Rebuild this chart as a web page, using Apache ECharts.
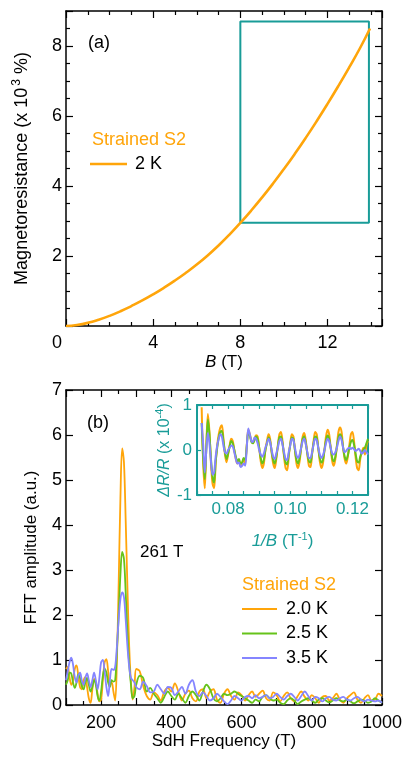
<!DOCTYPE html>
<html><head><meta charset="utf-8">
<script src="https://cdn.jsdelivr.net/npm/echarts@6/dist/echarts.min.js"></script>
<style>html,body{margin:0;padding:0;background:#fff}#c{width:409px;height:760px}</style>
</head><body><div id="c"></div>
<script>
// ---- Panel (a): magnetoresistance vs B ----
const mrB   = [0,0.5,1,1.5,2,2.5,3,3.5,4,4.5,5,5.5,6,6.5,7,7.5,8,8.5,9,9.5,10,10.5,11,11.5,12,12.5,13,13.5,13.95];
const mrVal = [0,0.03,0.09,0.18,0.29,0.42,0.57,0.73,0.905,1.095,1.30,1.52,1.755,2.015,2.30,2.61,2.945,3.30,3.675,4.07,4.485,4.92,5.375,5.85,6.345,6.86,7.395,7.95,8.50];
const boxB  = [8, 13.9, 13.9, 8, 8];
const boxMR = [2.95, 2.95, 8.7, 8.7, 2.95];
const xTicksA = [0, 4, 8, 12];
const yTicksA = [2, 4, 6, 8];

// ---- Panel (b): FFT amplitude ----
const fftFreq = [];
for (let f = 100; f <= 300; f += 5) fftFreq.push(f);
for (let f = 310; f <= 1000; f += 10) fftFreq.push(f);
const fft20 = [0.80,0.85,0.62,0.45,0.55,0.80,0.88,0.65,0.40,0.35, 0.55,0.62,0.40,0.15,0.05,0.35,0.58,0.50,0.25,0.08, 0.12,0.55,0.95,1.02,0.75,0.45,0.50,0.30,0.10,1.00, 2.70,4.60,5.70,5.40,4.10,2.60,1.30,0.50,0.12,0.40, 0.80,
  0.75,0.42,0.20,0.12,0.28,0.22,0.10,0.30,0.38,0.30, 0.48,0.30,0.10,0.25,0.32,0.15,0.08,0.30,0.35,0.15, 0.30,0.35,0.12,0.05,0.25,0.35,0.20,0.12,0.28,0.22, 0.10,0.22,0.30,0.18,0.25,0.32,0.15,0.10,0.28,0.22, 0.08,0.20,0.28,0.15,0.08,0.20,0.30,0.18,0.10,0.22, 0.15,0.05,0.18,0.20,0.10,0.15,0.25,0.12,0.05,0.15, 0.22,0.28,0.12,0.05,0.15,0.22,0.10,0.12,0.25,0.20];
const fft25 = [0.45,0.55,0.72,0.70,0.50,0.38,0.50,0.68,0.60,0.42, 0.35,0.50,0.60,0.45,0.30,0.40,0.55,0.45,0.20,0.10, 0.30,0.65,0.80,0.72,0.50,0.40,0.55,0.52,0.55,1.20, 2.00,2.90,3.40,3.25,2.50,1.60,0.90,0.45,0.15,0.20, 0.45,
  0.65,0.60,0.30,0.38,0.25,0.15,0.05,0.18,0.30,0.20, 0.12,0.25,0.15,0.05,0.20,0.30,0.22,0.10,0.30,0.45, 0.35,0.15,0.08,0.15,0.25,0.22,0.25,0.30,0.25,0.20, 0.15,0.10,0.05,0.12,0.08,0.18,0.22,0.15,0.10,0.12, 0.05,0.02,0.10,0.15,0.10,0.02,0.08,0.12,0.15,0.10, 0.05,0.12,0.15,0.10,0.06,0.10,0.15,0.10,0.08,0.12, 0.08,0.04,0.08,0.12,0.10,0.05,0.08,0.15,0.10,0.05];
const fft35 = [0.55,0.75,0.95,1.05,0.90,0.62,0.50,0.65,0.72,0.55, 0.45,0.60,0.70,0.55,0.40,0.55,0.72,0.55,0.35,0.60, 0.95,1.00,0.75,0.40,0.20,0.55,0.80,0.78,0.85,1.30, 1.90,2.35,2.50,2.40,1.90,1.30,0.85,0.60,0.55,0.50, 0.40,
  0.35,0.52,0.42,0.28,0.30,0.45,0.35,0.25,0.40,0.38, 0.22,0.30,0.40,0.25,0.45,0.55,0.30,0.20,0.28,0.20, 0.10,0.15,0.25,0.18,0.08,0.02,0.10,0.20,0.15,0.10, 0.18,0.20,0.15,0.22,0.15,0.18,0.22,0.15,0.18,0.25, 0.18,0.12,0.20,0.25,0.18,0.10,0.20,0.30,0.20,0.10, 0.18,0.15,0.08,0.15,0.18,0.12,0.10,0.15,0.18,0.12, 0.10,0.15,0.18,0.12,0.08,0.12,0.10,0.08,0.10,0.05];
const xTicksB = [200, 400, 600, 800, 1000];

// ---- Inset: dR/R vs 1/B ----
const invBStart = 0.0715, invBStep = 0.0005;
const osc20 = [0.95,-0.30,-0.85,0.10,0.80,0.40,-0.30,-0.75,-0.85,-0.30, 0.10,0.35,0.50,0.55,0.25,-0.10,-0.27,-0.10,0.10,0.25, 0.20,0.00,-0.20,-0.30,-0.25,-0.35,-0.30,-0.20,-0.30,0.10, 0.45,0.35,0.20,0.15,0.25,0.33,0.30,0.05,-0.25,-0.40, -0.30,0.00,0.20,0.35,0.25,-0.05,-0.30,-0.40,-0.20,0.10, 0.35,0.40,0.20,-0.15,-0.40,-0.45,-0.15,0.15,0.35,0.30, 0.00,-0.30,-0.40,-0.25,0.05,0.30,0.38,0.20,-0.10,-0.35, -0.38,-0.10,0.20,0.40,0.35,0.05,-0.25,-0.40,-0.30,0.00, 0.30,0.45,0.35,0.05,-0.25,-0.35,-0.20,0.10,0.40,0.50, 0.40,0.05,-0.20,-0.30,-0.15,0.10,0.35,0.40,0.20,-0.15, -0.40,-0.45,-0.20,-0.05,0.05,-0.10,0.10,0.20];
const osc25 = [0.60,-0.20,-0.65,0.05,0.68,0.35,-0.20,-0.60,-0.72,-0.25, 0.05,0.28,0.40,0.42,0.20,-0.05,-0.20,-0.08,0.08,0.20, 0.15,0.00,-0.15,-0.25,-0.20,-0.30,-0.28,-0.18,-0.22,0.08, 0.40,0.32,0.18,0.15,0.22,0.30,0.25,0.05,-0.18,-0.30, -0.22,0.00,0.15,0.28,0.20,-0.03,-0.22,-0.30,-0.15,0.08, 0.28,0.30,0.15,-0.10,-0.28,-0.32,-0.10,0.12,0.28,0.25, 0.00,-0.22,-0.30,-0.18,0.05,0.25,0.30,0.15,-0.08,-0.25, -0.28,-0.08,0.15,0.30,0.28,0.05,-0.18,-0.28,-0.22,0.00, 0.22,0.32,0.25,0.05,-0.18,-0.25,-0.15,0.08,0.28,0.35, 0.28,0.05,-0.15,-0.22,-0.12,0.05,0.18,0.22,0.12,-0.08, -0.25,-0.28,-0.15,-0.05,0.00,0.05,0.15,0.25];
const osc35 = [0.60,0.10,-0.50,0.00,0.38,0.15,-0.25,-0.55,-0.50,-0.15, 0.10,0.25,0.35,0.30,0.10,-0.05,-0.08,0.00,0.05,0.10, 0.08,-0.05,-0.20,-0.30,-0.28,-0.38,-0.35,-0.30,-0.35,0.05, 0.48,0.35,0.20,0.18,0.28,0.25,0.15,0.00,-0.10,-0.15, -0.08,0.05,0.15,0.25,0.18,0.00,-0.15,-0.20,-0.08,0.05, 0.20,0.25,0.12,-0.05,-0.20,-0.22,-0.05,0.10,0.25,0.22, 0.05,-0.12,-0.18,-0.10,0.05,0.20,0.25,0.12,-0.05,-0.18, -0.18,-0.05,0.12,0.25,0.22,0.05,-0.10,-0.18,-0.12,0.00, 0.15,0.25,0.20,0.05,-0.08,-0.10,-0.05,0.05,0.20,0.30, 0.22,0.05,-0.05,-0.02,0.03,0.05,0.02,0.05,0.02,-0.02, 0.00,0.03,-0.02,-0.08,-0.05,0.00,-0.05,-0.10];
const insetXLabels = [0.08, 0.10, 0.12];

const C_OR = '#FFA50A', C_GR = '#66C31A', C_PU = '#8585FF', C_TE = '#199C98';
const FONT = 'Liberation Sans, Arial, sans-serif';

const zip = (xs, ys) => ys.map((y, i) => [xs[i], y]);
const invB = osc20.map((_, i) => +(invBStart + i * invBStep).toFixed(5));

function frameAxis(grid, pos, color, lw, min, max, interval, split, tickLen, minorLen) {
  return {
    type: 'value', gridIndex: grid, position: pos, min, max, interval,
    axisLine: { show: true, onZero: false, lineStyle: { color, width: lw } },
    axisTick: { show: tickLen > 0, inside: true, length: tickLen, lineStyle: { color, width: 1.2 } },
    minorTick: { show: split > 0, splitNumber: split || 5, length: minorLen, lineStyle: { color, width: 1.2 } },
    axisLabel: { show: false }, splitLine: { show: false }
  };
}

const near = (v, arr) => arr.some(t => Math.abs(v - t) < 1e-6);

const xAxes = [
  Object.assign(frameAxis(0, 'bottom', '#000', 1.5, 0, 14.5, 4, 4, 7, 4), {
    axisLabel: { show: true, fontFamily: FONT, fontSize: 18, color: '#000', margin: 8, showMaxLabel: false,
      formatter: v => v === 0 ? '{z|0}' : (near(v, xTicksA) ? String(v) : ''),
      rich: { z: { fontFamily: FONT, fontSize: 18, color: '#000', padding: [0, 18, 7, 0] } } },
    name: '{i|B} (T)', nameLocation: 'middle', nameGap: 28,
    nameTextStyle: { fontFamily: FONT, fontSize: 17, color: '#000', rich: { i: { fontFamily: FONT, fontSize: 17, fontStyle: 'italic', color: '#000' } } }
  }),
  frameAxis(0, 'top', '#000', 1.5, 0, 14.5, 4, 4, 7, 4),
  Object.assign(frameAxis(1, 'bottom', '#000', 1.5, 100, 1000, 100, 2, 7, 4), {
    axisLabel: { show: true, fontFamily: FONT, fontSize: 18, color: '#000', margin: 9,
      formatter: v => near(v, xTicksB) ? String(v) : '' },
    name: 'SdH Frequency (T)', nameLocation: 'middle', nameGap: 28,
    nameTextStyle: { fontFamily: FONT, fontSize: 17, color: '#000' }
  }),
  frameAxis(1, 'top', '#000', 1.5, 100, 1000, 100, 2, 7, 4),
  Object.assign(frameAxis(2, 'bottom', C_TE, 2, 0.07, 0.125, 0.005, 0, 4, 0), {
    axisLabel: { show: true, fontFamily: FONT, fontSize: 17, color: C_TE, margin: 6, showMinLabel: true,
      formatter: v => near(v, insetXLabels) ? v.toFixed(2) : '' },
    name: '{i|1/B} (T{sup|-1})', nameLocation: 'middle', nameGap: 36,
    nameTextStyle: { fontFamily: FONT, fontSize: 17, color: C_TE,
      rich: { i: { fontFamily: FONT, fontSize: 17, fontStyle: 'italic', color: C_TE },
              sup: { fontFamily: FONT, fontSize: 11, color: C_TE, padding: [0, 0, 10, 0] } } }
  }),
  frameAxis(2, 'top', C_TE, 2, 0.07, 0.125, 0.005, 0, 4, 0)
];

const yAxes = [
  Object.assign(frameAxis(0, 'left', '#000', 1.5, 0, 9, 2, 4, 7, 4), {
    axisLabel: { show: true, fontFamily: FONT, fontSize: 18, color: '#000', margin: 4, showMaxLabel: false,
      formatter: v => near(v, yTicksA) ? String(v) : '' },
    name: 'Magnetoresistance (x 10{sup|3} %)', nameLocation: 'middle', nameGap: 33,
    nameTextStyle: { fontFamily: FONT, fontSize: 18, color: '#000',
      rich: { sup: { fontFamily: FONT, fontSize: 12, color: '#000', padding: [0, 0, 10, 2] } } }
  }),
  frameAxis(0, 'right', '#000', 1.5, 0, 9, 2, 4, 7, 4),
  Object.assign(frameAxis(1, 'left', '#000', 1.5, 0, 7, 1, 0, 7, 0), {
    axisLabel: { show: true, fontFamily: FONT, fontSize: 18, color: '#000', margin: 4 },
    name: 'FFT amplitude (a.u.)', nameLocation: 'middle', nameGap: 26,
    nameTextStyle: { fontFamily: FONT, fontSize: 17, color: '#000' }
  }),
  frameAxis(1, 'right', '#000', 1.5, 0, 7, 1, 0, 7, 0),
  Object.assign(frameAxis(2, 'left', C_TE, 2, -1, 1, 1, 0, 4, 0), {
    axisLabel: { show: true, fontFamily: FONT, fontSize: 17, color: C_TE, margin: 5 },
    name: '{i|ΔR/R} (x 10{sup|-4})', nameLocation: 'middle', nameGap: 22,
    nameTextStyle: { fontFamily: FONT, fontSize: 16, color: C_TE,
      rich: { i: { fontFamily: FONT, fontSize: 16, fontStyle: 'italic', color: C_TE },
              sup: { fontFamily: FONT, fontSize: 11, color: C_TE, padding: [0, 0, 10, 0] } } }
  }),
  frameAxis(2, 'right', C_TE, 2, -1, 1, 1, 0, 0, 0)
];

const lineS = (name, xi, yi, data, color, width, smooth, z) => ({
  name, type: 'line', xAxisIndex: xi, yAxisIndex: yi, data, symbol: 'none', showSymbol: false,
  smooth, z: z || 2, lineStyle: { color, width }, itemStyle: { color }, silent: true, animation: false
});

const option = {
  animation: false,
  backgroundColor: '#fff',
  grid: [
    { left: 66, top: 11, width: 316, height: 315 },
    { left: 66, top: 390, width: 316, height: 315 },
    { left: 197, top: 405, width: 171, height: 90 }
  ],
  xAxis: xAxes,
  yAxis: yAxes,
  legend: [
    { data: ['2 K'], orient: 'vertical', left: 90, top: 155, padding: 0, icon: 'rect', itemWidth: 37, itemHeight: 2.6,
      textStyle: { fontFamily: FONT, fontSize: 18, color: '#000', lineHeight: 18, padding: [0, 0, 0, 3] } },
    { data: ['2.0 K', '2.5 K', '3.5 K'], orient: 'vertical', left: 242, top: 600, padding: 0, itemGap: 6.5,
      icon: 'rect', itemWidth: 35, itemHeight: 2,
      textStyle: { fontFamily: FONT, fontSize: 18, color: '#000', lineHeight: 18, padding: [0, 0, 0, 4] } }
  ],
  graphic: [
    { type: 'text', left: 88, top: 34, style: { text: '(a)', font: '18px ' + FONT, fill: '#000' } },
    { type: 'text', left: 92, top: 131, style: { text: 'Strained S2', font: '18px ' + FONT, fill: C_OR } },
    { type: 'text', left: 87, top: 414, style: { text: '(b)', font: '18px ' + FONT, fill: '#000' } },
    { type: 'text', left: 140, top: 544, style: { text: '261 T', font: '17px ' + FONT, fill: '#000' } },
    { type: 'text', left: 242, top: 576, style: { text: 'Strained S2', font: '18px ' + FONT, fill: C_OR } }
  ],
  series: [
    lineS('box', 0, 0, zip(boxB, boxMR), C_TE, 2, false, 1),
    lineS('2 K', 0, 0, zip(mrB, mrVal), C_OR, 2.6, true, 3),
    lineS('2.0 K', 2, 2, zip(fftFreq, fft20), C_OR, 1.8, 0.35),
    lineS('2.5 K', 2, 2, zip(fftFreq, fft25), C_GR, 1.8, 0.35),
    lineS('3.5 K', 2, 2, zip(fftFreq, fft35), C_PU, 1.8, 0.35),
    lineS('i2.0', 4, 4, zip(invB, osc20), C_OR, 2, 0.3),
    lineS('i2.5', 4, 4, zip(invB, osc25), C_GR, 2, 0.3),
    lineS('i3.5', 4, 4, zip(invB, osc35), C_PU, 2, 0.3)
  ]
};

const chart = echarts.init(document.getElementById('c'), null, { renderer: 'canvas' });
chart.setOption(option);
</script>
</body></html>
